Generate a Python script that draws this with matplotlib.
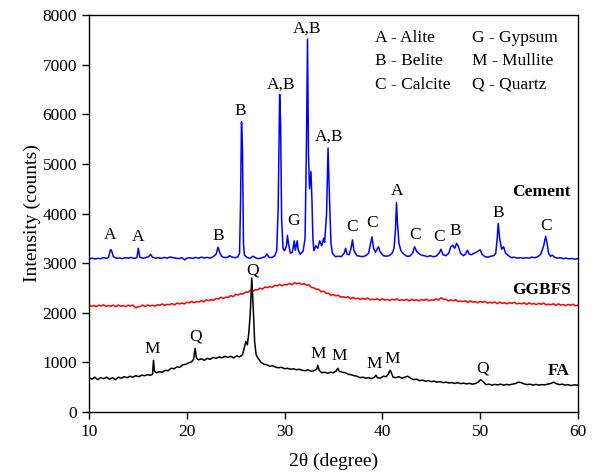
import matplotlib
matplotlib.use("Agg")
import matplotlib.pyplot as plt

plt.rcParams["font.family"] = ["Liberation Serif", "DejaVu Serif"]

# --- traced XRD patterns (2theta in degrees, intensity in counts) ---
cement_2theta = [
    10.0, 10.3, 10.6, 10.9, 11.2, 11.5, 11.8, 12.0, 12.2, 12.3, 12.5, 12.8, 13.1, 13.4, 13.7,
    14.0, 14.3, 14.6, 14.9, 15.05, 15.2, 15.5, 15.8, 16.1, 16.3, 16.5, 16.8, 17.1, 17.4, 17.7,
    18.0, 18.3, 18.6, 18.9, 19.2, 19.5, 19.8, 20.0, 20.3, 20.6, 20.9, 21.2, 21.5, 21.8, 22.1,
    22.4, 22.7, 23.0, 23.2, 23.4, 23.6, 23.9, 24.2, 24.4, 24.6, 24.9, 25.2, 25.4, 25.5, 25.6,
    25.7, 25.8, 25.9, 26.2, 26.5, 26.8, 27.1, 27.4, 27.7, 28.0, 28.2, 28.4, 28.7, 29.0, 29.2,
    29.35, 29.5, 29.6, 29.7, 29.85, 30.0, 30.2, 30.3, 30.4, 30.6, 30.8, 31.0, 31.1, 31.3, 31.4,
    31.6, 31.9, 32.1, 32.25, 32.35, 32.45, 32.55, 32.7, 32.8, 32.9, 33.0, 33.2, 33.4, 33.6, 33.8,
    34.0, 34.1, 34.3, 34.45, 34.6, 34.75, 34.9, 35.2, 35.5, 35.8, 36.1, 36.25, 36.4, 36.6, 36.8,
    36.95, 37.1, 37.4, 37.7, 38.0, 38.3, 38.6, 38.8, 38.95, 39.1, 39.3, 39.6, 39.8, 40.1, 40.4,
    40.7, 41.0, 41.2, 41.35, 41.45, 41.55, 41.7, 41.9, 42.2, 42.5, 42.8, 43.1, 43.3, 43.5, 43.7,
    44.0, 44.3, 44.6, 44.9, 45.2, 45.5, 45.8, 46.0, 46.2, 46.5, 46.8, 47.0, 47.2, 47.4, 47.6,
    47.8, 48.0, 48.3, 48.5, 48.7, 48.9, 49.1, 49.4, 49.7, 50.0, 50.2, 50.5, 50.8, 51.1, 51.4,
    51.6, 51.75, 51.85, 52.0, 52.2, 52.4, 52.6, 52.9, 53.2, 53.5, 53.8, 54.1, 54.4, 54.7, 55.0,
    55.3, 55.6, 55.9, 56.2, 56.5, 56.7, 56.85, 57.0, 57.2, 57.4, 57.6, 57.9, 58.2, 58.5, 58.8,
    59.1, 59.4, 59.7, 60.0,
]
cement_counts = [
    3080, 3100, 3085, 3095, 3090, 3110, 3095, 3120, 3270, 3260, 3130, 3100, 3105, 3090, 3110,
    3100, 3115, 3095, 3110, 3300, 3120, 3100, 3110, 3130, 3175, 3120, 3100, 3110, 3095, 3115,
    3100, 3125, 3110, 3100, 3090, 3110, 3065, 3100, 3110, 3095, 3115, 3100, 3120, 3105, 3115,
    3100, 3130, 3180, 3320, 3200, 3130, 3110, 3120, 3150, 3125, 3110, 3120, 3200, 4200, 5850,
    5300, 3400, 3160, 3110, 3100, 3140, 3100, 3090, 3110, 3130, 3180, 3120, 3110, 3150, 3250,
    4100, 6400, 5800, 3900, 3300, 3250, 3350, 3560, 3400, 3200, 3220, 3450, 3260, 3450, 3260,
    3180, 3240, 3500, 5500, 7520, 5200, 4500, 4850, 4300, 3500, 3250, 3350, 3300, 3450, 3350,
    3500, 3420, 4000, 5320, 4300, 3400, 3200, 3130, 3140, 3130, 3200, 3300, 3180, 3170, 3300,
    3470, 3250, 3150, 3140, 3130, 3150, 3200, 3400, 3530, 3300, 3220, 3330, 3220, 3150, 3140,
    3150, 3200, 3300, 3700, 4220, 3800, 3400, 3250, 3180, 3140, 3140, 3200, 3330, 3240, 3200,
    3160, 3150, 3130, 3150, 3130, 3140, 3200, 3280, 3170, 3150, 3200, 3330, 3360, 3300, 3400,
    3330, 3200, 3150, 3180, 3260, 3180, 3170, 3200, 3230, 3270, 3180, 3130, 3120, 3140, 3150,
    3200, 3500, 3800, 3500, 3280, 3330, 3200, 3150, 3110, 3120, 3100, 3110, 3100, 3110, 3100,
    3120, 3110, 3130, 3180, 3350, 3540, 3400, 3200, 3140, 3160, 3120, 3100, 3110, 3090, 3100,
    3085, 3095, 3080, 3090,
]

# GGBFS scan, 0.25 degree steps from 10 to 60
ggbfs_2theta = [10 + 0.25 * i for i in range(201)]
ggbfs_counts = [
    2155, 2130, 2145, 2122, 2152, 2134, 2160, 2126, 2143, 2131, 2154, 2120, 2155, 2130, 2145,
    2122, 2152, 2134, 2155, 2101, 2115, 2126, 2154, 2122, 2158, 2135, 2151, 2130, 2162, 2148,
    2178, 2148, 2168, 2160, 2187, 2156, 2195, 2175, 2195, 2177, 2212, 2199, 2230, 2201, 2223,
    2217, 2246, 2218, 2260, 2242, 2264, 2249, 2287, 2277, 2312, 2287, 2313, 2312, 2346, 2323,
    2370, 2357, 2385, 2374, 2417, 2412, 2452, 2432, 2463, 2462, 2497, 2474, 2520, 2504, 2528,
    2513, 2552, 2540, 2572, 2544, 2568, 2562, 2591, 2563, 2605, 2583, 2600, 2567, 2587, 2554,
    2565, 2508, 2503, 2471, 2474, 2420, 2435, 2392, 2390, 2352, 2367, 2339, 2355, 2313, 2323,
    2305, 2322, 2281, 2310, 2281, 2293, 2266, 2292, 2272, 2296, 2261, 2276, 2262, 2283, 2247,
    2280, 2254, 2268, 2244, 2274, 2255, 2280, 2246, 2262, 2250, 2272, 2238, 2272, 2247, 2261,
    2238, 2268, 2249, 2275, 2241, 2258, 2249, 2279, 2255, 2300, 2272, 2270, 2237, 2262, 2240,
    2262, 2224, 2238, 2223, 2244, 2207, 2240, 2212, 2225, 2199, 2227, 2207, 2231, 2195, 2210,
    2196, 2217, 2181, 2215, 2189, 2202, 2178, 2207, 2187, 2212, 2176, 2192, 2179, 2201, 2166,
    2200, 2173, 2186, 2162, 2190, 2170, 2195, 2159, 2174, 2160, 2181, 2146, 2180, 2153, 2166,
    2141, 2169, 2149, 2173, 2137, 2153,
]

fa_2theta = [
    10.0, 10.3, 10.6, 10.9, 11.2, 11.5, 11.8, 12.1, 12.4, 12.7, 13.0, 13.3, 13.6, 13.9, 14.2,
    14.5, 14.8, 15.1, 15.4, 15.7, 16.0, 16.3, 16.5, 16.6, 16.7, 16.9, 17.2, 17.5, 17.8, 18.1,
    18.4, 18.7, 19.0, 19.3, 19.6, 19.9, 20.2, 20.5, 20.7, 20.85, 21.0, 21.2, 21.5, 21.8, 22.1,
    22.4, 22.7, 23.0, 23.3, 23.6, 23.9, 24.2, 24.5, 24.8, 25.1, 25.4, 25.7, 25.9, 26.05, 26.2,
    26.35, 26.5, 26.65, 26.8, 26.95, 27.1, 27.3, 27.6, 27.9, 28.2, 28.5, 28.8, 29.1, 29.4, 29.7,
    30.0, 30.3, 30.6, 30.9, 31.2, 31.5, 31.8, 32.1, 32.4, 32.7, 33.0, 33.3, 33.4, 33.55, 33.8,
    34.1, 34.4, 34.7, 35.0, 35.3, 35.45, 35.6, 35.9, 36.2, 36.5, 36.8, 37.1, 37.4, 37.7, 38.0,
    38.3, 38.6, 38.9, 39.2, 39.35, 39.5, 39.8, 40.1, 40.4, 40.6, 40.8, 40.95, 41.1, 41.4, 41.7,
    42.0, 42.3, 42.6, 42.9, 43.2, 43.5, 43.8, 44.1, 44.4, 44.7, 45.0, 45.3, 45.6, 45.9, 46.2,
    46.5, 46.8, 47.1, 47.4, 47.7, 48.0, 48.3, 48.6, 48.9, 49.2, 49.5, 49.8, 50.05, 50.3, 50.6,
    50.9, 51.2, 51.5, 51.8, 52.1, 52.4, 52.7, 53.0, 53.3, 53.6, 53.9, 54.2, 54.5, 54.8, 55.1,
    55.4, 55.7, 56.0, 56.3, 56.6, 56.9, 57.2, 57.5, 57.8, 58.1, 58.4, 58.7, 59.0, 59.3, 59.6,
    60.0,
]
fa_counts = [
    690, 660, 700, 650, 690, 670, 700, 660, 690, 650, 700, 680, 710, 690, 720,
    700, 730, 710, 740, 730, 750, 740, 760, 1040, 820, 790, 810, 800, 840, 830,
    880, 870, 910, 900, 950, 960, 990, 1010, 1060, 1280, 1080, 1050, 1070, 1040, 1080,
    1060, 1100, 1080, 1110, 1090, 1120, 1100, 1120, 1090, 1130, 1110, 1150, 1300, 1420, 1350,
    1600, 2000, 2700, 2100, 1400, 1150, 1080, 1000, 960, 950, 920, 930, 900, 890, 900,
    870, 880, 860, 870, 850, 860, 840, 830, 850, 820, 830, 860, 940, 840, 790,
    800, 780, 800, 790, 830, 880, 820, 800, 790, 760, 750, 730, 720, 690, 700,
    680, 690, 670, 700, 740, 690, 680, 720, 710, 760, 840, 780, 700, 690, 710,
    680, 700, 720, 680, 650, 660, 630, 640, 620, 630, 610, 620, 600, 610, 590,
    600, 585, 590, 575, 590, 570, 580, 565, 575, 560, 570, 600, 650, 610, 550,
    560, 540, 555, 545, 560, 540, 555, 545, 560, 570, 600, 590, 565, 550, 560,
    540, 555, 540, 550, 545, 560, 570, 600, 570, 550, 560, 540, 550, 530, 545,
    540,
]

# phase labels: (2theta, counts, text)
peak_labels = [
    (12.2, 3560, "A"), (15.0, 3520, "A"), (23.2, 3550, "B"), (25.5, 6060, "B"),
    (29.6, 6600, "A,B"), (30.9, 3840, "G"), (32.3, 7720, "A,B"), (34.6, 5560, "A,B"),
    (36.95, 3720, "C"), (39.0, 3800, "C"), (41.5, 4450, "A"), (43.35, 3570, "C"),
    (45.8, 3535, "C"), (47.5, 3640, "B"), (51.85, 4020, "B"), (56.75, 3750, "C"),
    (16.5, 1270, "M"), (20.95, 1515, "Q"), (26.7, 2860, "Q"), (33.45, 1165, "M"),
    (35.6, 1125, "M"), (39.15, 965, "M"), (41.05, 1065, "M"), (50.2, 875, "Q"),
]
sample_labels = [(59.3, 4440, "Cement"), (59.3, 2450, "GGBFS"), (59.2, 830, "FA")]
key_col1 = ["A - Alite", "B - Belite", "C - Calcite"]
key_col2 = ["G - Gypsum", "M - Mullite", "Q - Quartz"]
key_rows = [7530, 7080, 6600]

fig = plt.figure(figsize=(5.97, 4.74), dpi=100)
ax = fig.add_axes([0.149, 0.131, 0.819, 0.837])

ax.plot(cement_2theta, cement_counts, color="#0000ff", lw=1.1)
ax.plot(ggbfs_2theta, ggbfs_counts, color="#ff0000", lw=1.1)
ax.plot(fa_2theta, fa_counts, color="black", lw=1.1)

for x, y, s in peak_labels:
    ax.text(x, y, s, ha="center", va="center", fontsize=12.5)
for x, y, s in sample_labels:
    ax.text(x, y, s, ha="right", va="center", fontsize=12.5, fontweight="bold")
for row, a, b in zip(key_rows, key_col1, key_col2):
    ax.text(39.3, row, a, ha="left", va="center", fontsize=12.5)
    ax.text(49.2, row, b, ha="left", va="center", fontsize=12.5)

ax.set_xlim(10, 60)
ax.set_ylim(0, 8000)
ax.set_xticks(range(10, 61, 10))
ax.set_yticks(range(0, 8001, 1000))
ax.tick_params(direction="out", length=5, width=1, labelsize=12.5)
for sp in ax.spines.values():
    sp.set_linewidth(1.0)

ax.set_xlabel("2θ (degree)", fontsize=14, labelpad=9)
ax.set_ylabel("Intensity (counts)", fontsize=14, labelpad=1)

fig.savefig("out.png", dpi=100)
